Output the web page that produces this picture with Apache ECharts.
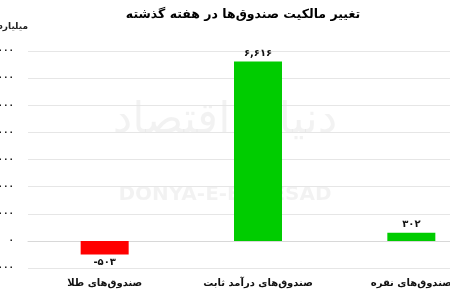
<!DOCTYPE html>
<html><head><meta charset="utf-8">
<script src="https://cdn.jsdelivr.net/npm/echarts@6/dist/echarts.min.js"></script>
<style>html,body{margin:0;padding:0;background:#fff}#c{width:450px;height:300px}</style>
</head><body><div id="c"></div>
<script>
const categories = ['صندوق‌های طلا', 'صندوق‌های درآمد ثابت', 'صندوق‌های نقره'];
const values = [-503, 6616, 302];
const barColors = ['#ff0000', '#00cc00', '#00cc00'];
const yMin = -1000, yMax = 7000, yStep = 1000;

const fa = n => {
  const s = Math.abs(n).toLocaleString('en-US').replace(/\d/g, d => '۰۱۲۳۴۵۶۷۸۹'[d]);
  return (n < 0 ? '-' : '') + s;
};
const font = 'DejaVu Sans';
const chart = echarts.init(document.getElementById('c'));
chart.setOption({
  animation: false,
  textStyle: { fontFamily: font },
  title: { text: 'تغییر مالکیت صندوق‌ها در هفته گذشته', left: 238, textAlign: 'center', top: 3,
    textStyle: { fontSize: 12.5, fontWeight: 'bold', color: '#000', fontFamily: font } },
  graphic: [
    { type: 'text', z: 10, style: { text: 'میلیارد تومان', x: 28, y: 27, textAlign: 'right', textVerticalAlign: 'middle', fontSize: 9, fontWeight: 'bold', fill: '#222', fontFamily: font } },
    { type: 'text', left: 'center', top: 100, z: -1, style: { text: 'دنیای اقتصاد', fontSize: 44, fill: 'rgba(0,0,0,0.05)', fontFamily: font } },
    { type: 'text', left: 'center', top: 185, z: -1, style: { text: 'DONYA-E-EQTESAD', fontSize: 20, fontWeight: 'bold', fill: 'rgba(0,0,0,0.05)', fontFamily: font } }
  ],
  grid: { left: 28, right: -38, top: 51, bottom: 32, outerBoundsMode: 'none', containLabel: false },
  xAxis: { type: 'category', data: categories,
    axisLine: { show: true, lineStyle: { color: '#d8d8d8' } }, axisTick: { show: false },
    axisLabel: { interval: 0, fontSize: 10, fontWeight: 'bold', color: '#111', margin: 10, fontFamily: font, hideOverlap: false } },
  yAxis: { type: 'value', min: yMin, max: yMax, interval: yStep,
    axisLine: { show: false }, axisTick: { show: false },
    splitLine: { lineStyle: { color: '#e6e6e6' } },
    axisLabel: { formatter: v => fa(v), fontSize: 9, fontWeight: 'bold', color: '#222', margin: 14, fontFamily: font } },
  series: [{ type: 'bar', barWidth: 48,
    data: values.map((v, i) => ({ value: v, itemStyle: { color: barColors[i] },
      label: { position: v < 0 ? 'bottom' : 'top' } })),
    label: { show: true, formatter: p => fa(p.value), fontSize: 10, fontWeight: 'bold', color: '#111', distance: 3, fontFamily: font } }]
});
</script></body></html>
